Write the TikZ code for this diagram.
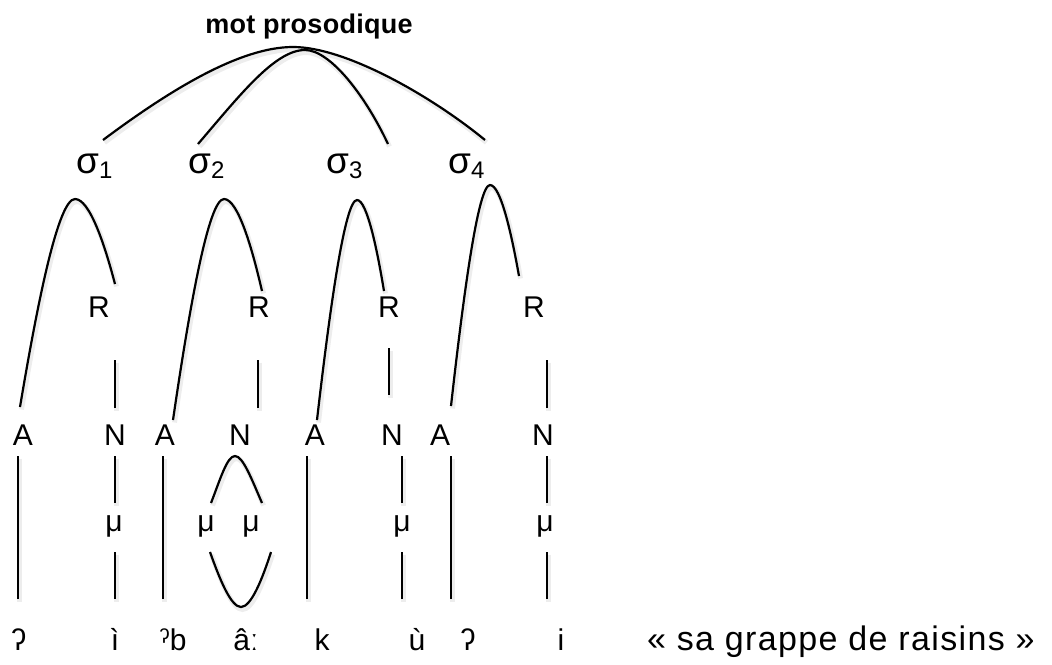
\documentclass[tikz,border=0pt]{standalone}
\usepackage{fontspec}
\setmainfont{Liberation Sans}
\newfontfamily\motfont[LetterSpace=1]{Liberation Sans}
\newfontfamily\trfont[LetterSpace=4]{Liberation Sans}
\usetikzlibrary{calc}
\newcommand\sigsub[1]{\raisebox{-5pt}{\fontsize{24}{24}\selectfont #1}}
\newcommand\sylarc[3]{\draw[ln] let \p1=(#1),\p2=(#2),\p3=(#3) in (\p1) .. controls ({\x1+0.33*(\x2-\x1)},{\y1+0.52*(\y2-\y1)}) and ({\x2-0.3*(\x2-\x1)},\y2) .. (\p2) .. controls ({\x2+0.37*(\x3-\x2)},\y2) and ({\x3-0.25*(\x3-\x2)},{\y3-0.45*(\y3-\y2)}) .. (\p3);}
\begin{document}
\begin{tikzpicture}[x=1pt,y=-1pt,
  lbl/.style={inner sep=0pt, anchor=base, font=\fontsize{30}{30}\selectfont},
  sig/.style={inner sep=0pt, anchor=base west, font=\fontsize{37}{37}\selectfont},
  ln/.style={line width=2.2pt, preaction={draw=black!7, line width=5pt, transform canvas={shift={(1.5pt,-2.5pt)}}}}]
\path[use as bounding box] (0,0) rectangle (1052,664);

% title
\node[inner sep=0pt, anchor=base, font=\motfont\bfseries\fontsize{27}{27}\selectfont] (mot) at (309,33) {mot prosodique};

% syllables
\node[sig] (s1) at (76,173) {σ\sigsub{1}};
\node[sig] (s2) at (188,173) {σ\sigsub{2}};
\node[sig] (s3) at (326,173) {σ\sigsub{3}};
\node[sig] (s4) at (448,173) {σ\sigsub{4}};

% word arcs
\coordinate (t1) at (103,140); \coordinate (tp) at (293,47); \coordinate (t4) at (485,140);
\draw[ln] (t1) .. controls (170,90) and (240,47) .. (tp) .. controls (345,47) and (430,95) .. (t4);
\coordinate (t2) at (198,144); \coordinate (tq) at (305,50); \coordinate (t3) at (388,144);
\draw[ln] (t2) .. controls (240,95) and (275,50) .. (tq) .. controls (330,50) and (365,95) .. (t3);

% rhymes
\node[lbl] (R1) at (99,317) {R};
\node[lbl] (R2) at (259,317) {R};
\node[lbl] (R3) at (389,317) {R};
\node[lbl] (R4) at (534,317) {R};

% onsets and nuclei
\node[lbl] (A1) at (23,445) {A};
\node[lbl] (N1) at (115,445) {N};
\node[lbl] (A2) at (165,445) {A};
\node[lbl] (N2) at (240,445) {N};
\node[lbl] (A3) at (315,445) {A};
\node[lbl] (N3) at (392,445) {N};
\node[lbl] (A4) at (440,445) {A};
\node[lbl] (N4) at (543,445) {N};

% syllable arcs
\coordinate (a1s) at (20,407); \coordinate (a1p) at (75,199); \coordinate (a1e) at (115,284);
\coordinate (a2s) at (173,420); \coordinate (a2p) at (224,199); \coordinate (a2e) at (262,291);
\coordinate (a3s) at (317,420); \coordinate (a3p) at (357,200); \coordinate (a3e) at (384,291);
\coordinate (a4s) at (451,406); \coordinate (a4p) at (490,185); \coordinate (a4e) at (519,276);
\sylarc{a1s}{a1p}{a1e}
\sylarc{a2s}{a2p}{a2e}
\sylarc{a3s}{a3p}{a3e}
\sylarc{a4s}{a4p}{a4e}

% R - N lines
\coordinate (rn1a) at (115,360); \coordinate (rn1b) at (115,408);
\coordinate (rn2a) at (258,360); \coordinate (rn2b) at (258,408);
\coordinate (rn3a) at (389,348); \coordinate (rn3b) at (389,395);
\coordinate (rn4a) at (547,360); \coordinate (rn4b) at (547,408);
\draw[ln] (rn1a) -- (rn1b);
\draw[ln] (rn2a) -- (rn2b);
\draw[ln] (rn3a) -- (rn3b);
\draw[ln] (rn4a) -- (rn4b);

% morae
\node[lbl] (m1) at (114,531) {μ};
\node[lbl] (m2a) at (206,531) {μ};
\node[lbl] (m2b) at (251,531) {μ};
\node[lbl] (m3) at (402,531) {μ};
\node[lbl] (m4) at (545,531) {μ};

% onset lines
\foreach \i/\x in {1/18,2/163,3/307,4/451}{
  \coordinate (oa\i) at (\x,456); \coordinate (ob\i) at (\x,599);
  \draw[ln] (oa\i) -- (ob\i);
}
% nucleus lines
\foreach \i/\x in {1/115,3/402,4/547}{
  \coordinate (na\i) at (\x,456); \coordinate (nb\i) at (\x,503);
  \coordinate (nc\i) at (\x,552); \coordinate (nd\i) at (\x,599);
  \draw[ln] (na\i) -- (nb\i);
  \draw[ln] (nc\i) -- (nd\i);
}
% bimoraic nucleus
\coordinate (u1) at (211,503); \coordinate (up) at (235,456); \coordinate (u2) at (262,503);
\draw[ln] (u1) .. controls (220,480) and (227,456) .. (up) .. controls (243,456) and (252,480) .. (u2);
\coordinate (l1) at (210,552); \coordinate (lp) at (241,607); \coordinate (l2) at (271,552);
\draw[ln] (l1) .. controls (220,580) and (231,607) .. (lp) .. controls (251,607) and (262,580) .. (l2);

% segments
\node[lbl] (g1) at (19,650) {ʔ};
\node[lbl] (g2) at (115,650) {ì};
\node[lbl] (g3) at (173,650) {ˀb};
\node[lbl] (g4) at (246,650) {âː};
\node[lbl] (g5) at (322,650) {k};
\node[lbl] (g6) at (417,650) {ù};
\node[lbl] (g7) at (468,650) {ʔ};
\node[lbl] (g8) at (561,650) {i};

% gloss
\node[inner sep=0pt, anchor=base west, font=\trfont\fontsize{34}{34}\selectfont] (gloss) at (647,650) {« sa grappe de raisins »};
\end{tikzpicture}
\end{document}
